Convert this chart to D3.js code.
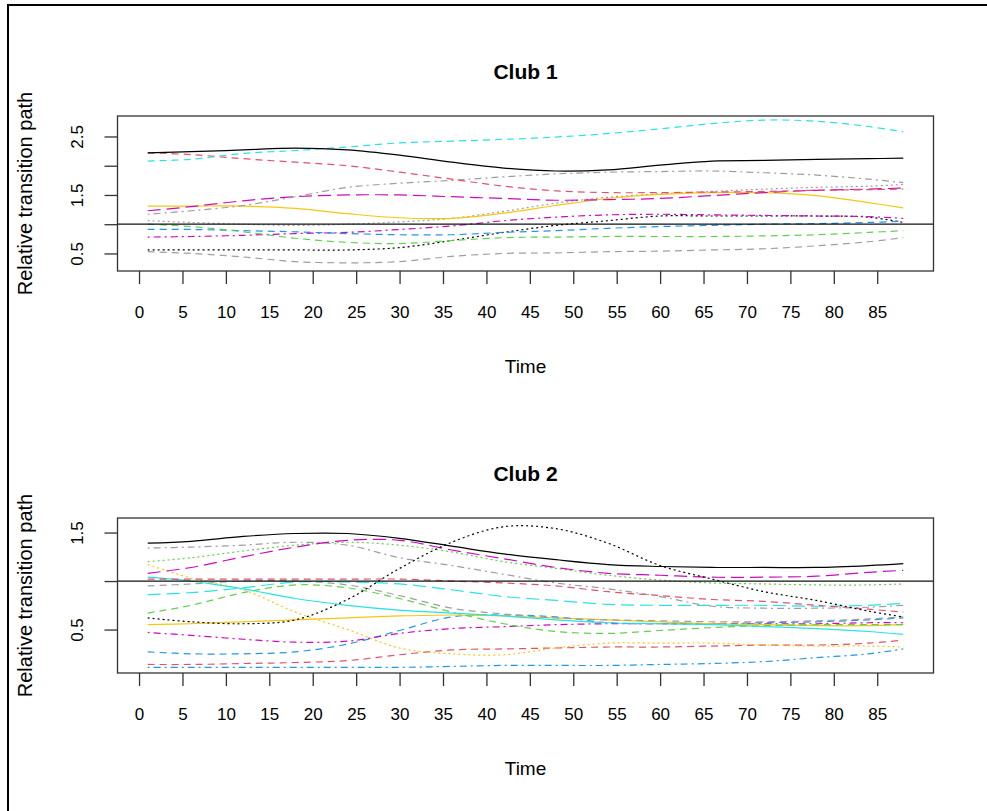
<!DOCTYPE html>
<html><head><meta charset="utf-8">
<script src="https://cdn.jsdelivr.net/npm/d3@7/dist/d3.min.js"></script>
<style>
body{margin:0;background:#fff}
text{font-family:"Liberation Sans",Arial,Helvetica,sans-serif;fill:#000}
</style>
</head><body>
<svg id="chart" width="987" height="811"></svg>
<script>
// ---------- DATA ----------
const time = [1, 6, 12, 18, 24, 30, 36, 42, 48, 54, 60, 66, 72, 78, 84, 88];
const xTicks = [0,5,10,15,20,25,30,35,40,45,50,55,60,65,70,75,80,85];
const club1YTicks = [0.5, 1.0, 1.5, 2.0, 2.5];
const club1YLabels = [0.5, 1.5, 2.5];
const club2YTicks = [0.5, 1.0, 1.5];
const club2YLabels = [0.5, 1.5];
const club1YLimits = [0.2, 2.85];
const club2YLimits = [0.052, 1.65];

// Club 1 series
const c1Black      = [2.22,2.24,2.27,2.30,2.27,2.18,2.06,1.96,1.91,1.93,2.01,2.08,2.09,2.11,2.12,2.13];
const c1CyanDash   = [2.08,2.11,2.21,2.26,2.32,2.39,2.42,2.45,2.49,2.55,2.63,2.72,2.78,2.76,2.67,2.58];
const c1RedDash    = [2.22,2.19,2.12,2.06,2.00,1.89,1.77,1.65,1.57,1.54,1.54,1.55,1.56,1.58,1.59,1.60];
const c1GreyDotDash= [1.17,1.23,1.32,1.47,1.63,1.70,1.75,1.81,1.86,1.89,1.90,1.91,1.88,1.84,1.77,1.71];
const c1MagLong    = [1.23,1.30,1.40,1.47,1.50,1.50,1.47,1.44,1.41,1.42,1.44,1.49,1.54,1.58,1.60,1.62];
const c1Yellow     = [1.31,1.31,1.31,1.27,1.18,1.11,1.10,1.19,1.32,1.44,1.51,1.54,1.54,1.49,1.37,1.28];
const c1GreyDot    = [1.06,1.03,1.00,0.98,1.00,1.04,1.10,1.22,1.36,1.46,1.52,1.56,1.60,1.63,1.65,1.68];
const c1GreenDash  = [1.00,0.96,0.87,0.76,0.69,0.67,0.72,0.77,0.78,0.79,0.79,0.79,0.80,0.82,0.86,0.89];
const c1BlueDash   = [0.91,0.91,0.89,0.87,0.84,0.82,0.82,0.86,0.89,0.93,0.96,0.98,1.00,1.01,1.03,1.05];
const c1MagDotDash = [0.78,0.79,0.81,0.84,0.86,0.91,0.97,1.06,1.12,1.16,1.17,1.16,1.15,1.14,1.13,1.10];
const c1BlackDot   = [0.56,0.56,0.56,0.56,0.56,0.60,0.72,0.86,0.98,1.06,1.14,1.14,1.14,1.14,1.12,1.03];
const c1GreyDash   = [0.53,0.50,0.44,0.36,0.34,0.36,0.45,0.50,0.51,0.53,0.54,0.56,0.58,0.63,0.70,0.77];

// Club 2 series
const c2Black      = [1.39,1.41,1.46,1.49,1.49,1.44,1.36,1.28,1.22,1.17,1.15,1.14,1.14,1.14,1.16,1.18];
const c2BlackDot   = [0.62,0.58,0.56,0.60,0.81,1.13,1.40,1.56,1.54,1.39,1.16,1.02,0.89,0.80,0.69,0.63];
const c2MagLong    = [1.08,1.14,1.25,1.35,1.42,1.42,1.32,1.23,1.14,1.08,1.06,1.04,1.04,1.05,1.09,1.11];
const c2GreyDotDash= [1.34,1.35,1.37,1.40,1.37,1.24,1.16,1.07,0.98,0.92,0.84,0.74,0.72,0.72,0.73,0.75];
const c2GreenDot   = [1.20,1.24,1.31,1.37,1.40,1.37,1.30,1.20,1.13,1.06,1.01,0.98,0.97,0.96,0.96,0.97];
const c2RedDash    = [1.02,1.02,1.02,1.02,1.02,1.02,1.00,0.98,0.95,0.89,0.85,0.81,0.79,0.75,0.71,0.68];
const c2CyanLong   = [0.86,0.88,0.93,0.99,0.99,0.97,0.91,0.84,0.80,0.76,0.75,0.75,0.75,0.74,0.75,0.77];
const c2Cyan       = [1.04,1.00,0.92,0.82,0.75,0.70,0.67,0.64,0.60,0.57,0.56,0.55,0.53,0.51,0.48,0.45];
const c2GreenDash  = [0.67,0.75,0.88,0.96,0.93,0.82,0.68,0.56,0.48,0.46,0.49,0.52,0.54,0.55,0.55,0.55];
const c2YellowDot  = [1.17,1.03,0.91,0.68,0.50,0.31,0.25,0.24,0.31,0.36,0.36,0.36,0.34,0.33,0.33,0.32];
const c2Yellow     = [0.55,0.56,0.58,0.60,0.62,0.64,0.65,0.64,0.62,0.60,0.58,0.56,0.55,0.54,0.54,0.55];
const c2MagDotDash = [0.47,0.44,0.40,0.37,0.38,0.46,0.51,0.53,0.55,0.56,0.56,0.56,0.56,0.56,0.57,0.57];
const c2BlueDash   = [0.27,0.25,0.25,0.27,0.35,0.49,0.63,0.65,0.63,0.57,0.56,0.56,0.57,0.58,0.60,0.62];
const c2RedLow     = [0.14,0.14,0.15,0.16,0.18,0.24,0.29,0.30,0.31,0.32,0.32,0.33,0.34,0.34,0.36,0.39];
const c2BlueDotDash= [0.11,0.11,0.11,0.11,0.11,0.11,0.12,0.13,0.13,0.13,0.14,0.15,0.17,0.21,0.25,0.30];
const c2GreyDash   = [0.95,0.97,1.00,1.00,0.96,0.85,0.72,0.66,0.62,0.60,0.59,0.58,0.58,0.59,0.61,0.63];

// ---------- STYLES ----------
const COL = {black:"#000000", red:"#DF536B", green:"#61D04F", blue:"#2297E6",
             cyan:"#28E2E5", magenta:"#CD0BBC", yellow:"#F5C710", grey:"#9E9E9E"};
const LTY = {solid:null, dashed:"7,5", dotted:"2,3", dotdash:"2,4,7,4", longdash:"13,6", twodash:"4,4,11,4"};

const club1Series = [
  {v:c1GreyDash, c:"grey", l:"dashed"},
  {v:c1BlackDot, c:"black", l:"dotted"},
  {v:c1MagDotDash, c:"magenta", l:"dotdash"},
  {v:c1BlueDash, c:"blue", l:"dashed"},
  {v:c1GreenDash, c:"green", l:"dashed"},
  {v:c1GreyDot, c:"grey", l:"dotted"},
  {v:c1Yellow, c:"yellow", l:"solid"},
  {v:c1MagLong, c:"magenta", l:"longdash"},
  {v:c1GreyDotDash, c:"grey", l:"dotdash"},
  {v:c1RedDash, c:"red", l:"dashed"},
  {v:c1CyanDash, c:"cyan", l:"dashed"},
  {v:c1Black, c:"black", l:"solid"}
];
const club2Series = [
  {v:c2BlueDotDash, c:"blue", l:"dotdash"},
  {v:c2RedLow, c:"red", l:"dashed"},
  {v:c2BlueDash, c:"blue", l:"dashed"},
  {v:c2MagDotDash, c:"magenta", l:"dotdash"},
  {v:c2Yellow, c:"yellow", l:"solid"},
  {v:c2YellowDot, c:"yellow", l:"dotted"},
  {v:c2GreenDash, c:"green", l:"dashed"},
  {v:c2GreyDash, c:"grey", l:"dashed"},
  {v:c2Cyan, c:"cyan", l:"solid"},
  {v:c2CyanLong, c:"cyan", l:"longdash"},
  {v:c2RedDash, c:"red", l:"dashed"},
  {v:c2GreenDot, c:"green", l:"dotted"},
  {v:c2GreyDotDash, c:"grey", l:"dotdash"},
  {v:c2MagLong, c:"magenta", l:"longdash"},
  {v:c2BlackDot, c:"black", l:"dotted"},
  {v:c2Black, c:"black", l:"solid"}
];

// ---------- DRAW ----------
const svg = d3.select("#chart");
svg.append("rect").attr("width",987).attr("height",811).attr("fill","#fff");
svg.append("path").attr("d","M8,811V5H987").attr("fill","none").attr("stroke","#000").attr("stroke-width",2);

const left = 117.5, right = 933.5;
const xExt = d3.extent(time), xPad = (xExt[1]-xExt[0])*0.04;
const x = d3.scaleLinear().domain([xExt[0]-xPad, xExt[1]+xPad]).range([left, right]);

function panel(cfg){
  const g = svg.append("g");
  const y = d3.scaleLinear().domain(cfg.yLim).range([cfg.bottom, cfg.top]);
  const cx = (left+right)/2;

  g.append("text").attr("x",cx).attr("y",cfg.top-37).attr("text-anchor","middle")
   .style("font-weight","bold").style("font-size","21px").text(cfg.title);

  const clipId = "clip"+cfg.id;
  g.append("clipPath").attr("id",clipId).append("rect")
   .attr("x",left).attr("y",cfg.top).attr("width",right-left).attr("height",cfg.bottom-cfg.top);

  const line = d3.line().x((d,i)=>x(time[i])).y(d=>y(d)).curve(d3.curveCatmullRom.alpha(0.5));
  const lg = g.append("g").attr("clip-path",`url(#${clipId})`);
  cfg.series.forEach(s=>{
    lg.append("path").attr("d",line(s.v)).attr("fill","none")
      .attr("stroke",COL[s.c]).attr("stroke-width",1.2)
      .attr("stroke-dasharray",LTY[s.l]);
  });
  // reference line at 1
  lg.append("line").attr("x1",left).attr("x2",right).attr("y1",y(1)).attr("y2",y(1))
    .attr("stroke","#111").attr("stroke-width",1.3);

  // box
  g.append("rect").attr("x",left).attr("y",cfg.top).attr("width",right-left)
   .attr("height",cfg.bottom-cfg.top).attr("fill","none").attr("stroke","#333").attr("stroke-width",1.3);

  // x axis
  const xa = g.append("g").attr("transform",`translate(0,${cfg.bottom})`)
    .call(d3.axisBottom(x).tickValues(xTicks).tickSize(13).tickSizeOuter(0).tickPadding(22).tickFormat(d3.format("d")));
  xa.select(".domain").remove();
  xa.selectAll("line").attr("stroke","#333").attr("stroke-width",1.3);
  xa.selectAll("text").style("font-size","17px").attr("font-family",null);

  // y axis
  const ya = g.append("g").attr("transform",`translate(${left},0)`)
    .call(d3.axisLeft(y).tickValues(cfg.yTicks).tickSize(13).tickSizeOuter(0)
      .tickFormat(d=>cfg.yLabels.includes(d)?d3.format(".1f")(d):""));
  ya.select(".domain").remove();
  ya.selectAll("line").attr("stroke","#333").attr("stroke-width",1.3);
  ya.selectAll("text").attr("x",0).attr("y",-34.5).attr("dy",null)
    .attr("transform","rotate(-90)").attr("text-anchor","middle").style("font-size","17px");

  // axis titles
  g.append("text").attr("x",cx).attr("y",cfg.bottom+102).attr("text-anchor","middle")
   .style("font-size","19px").text("Time");
  g.append("text").attr("transform",`translate(32,${(cfg.top+cfg.bottom)/2}) rotate(-90)`)
   .attr("text-anchor","middle").style("font-size","20px").text("Relative transition path");
}

panel({id:1, title:"Club 1", top:116, bottom:271, yLim:club1YLimits, yTicks:club1YTicks, yLabels:club1YLabels, series:club1Series});
panel({id:2, title:"Club 2", top:518, bottom:673, yLim:club2YLimits, yTicks:club2YTicks, yLabels:club2YLabels, series:club2Series});
</script>
</body></html>
